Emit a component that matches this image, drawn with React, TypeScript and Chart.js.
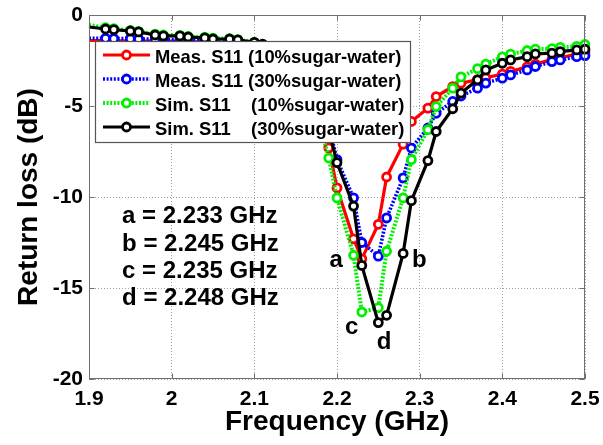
import React, { useEffect, useRef } from "react";
import { Chart, registerables } from "chart.js";

Chart.register(...registerables);

// Frequency grid (GHz) shared by all series (marker positions)
const FREQ = [
  1.9, 1.92, 1.93, 1.95, 1.96, 1.98, 1.99, 2.01, 2.02, 2.04, 2.05, 2.07, 2.08,
  2.1, 2.11, 2.13, 2.14, 2.16, 2.17, 2.19, 2.2, 2.22, 2.23, 2.25, 2.26, 2.28,
  2.29, 2.31, 2.32, 2.34, 2.35, 2.37, 2.38, 2.4, 2.41, 2.43, 2.44, 2.46, 2.47,
  2.49, 2.5,
];

// Return loss (dB)
const MEAS_10 = [
  -1.4, -1.4, -1.42, -1.42, -1.43, -1.43, -1.45, -1.45, -1.47, -1.48, -1.5, -1.52, -1.55,
  -1.6, -1.7, -2.0, -2.3, -3.2, -4.2, -7.3, -9.5, -12.3, -13.4, -11.5, -8.9, -7.1,
  -5.85, -5.12, -4.48, -3.93, -3.75, -3.55, -3.45, -3.25, -3.1, -2.85, -2.7, -2.45, -2.35,
  -2.15, -2.05,
];
const MEAS_30 = [
  -1.28, -1.28, -1.3, -1.3, -1.32, -1.33, -1.35, -1.36, -1.38, -1.4, -1.42, -1.45, -1.48,
  -1.55, -1.65, -1.95, -2.25, -3.1, -4.0, -6.1, -7.95, -10.05, -12.5, -13.25, -11.15, -8.95,
  -7.31, -6.21, -5.4, -4.75, -4.45, -4.02, -3.74, -3.47, -3.29, -3.02, -2.83, -2.56, -2.47,
  -2.29, -2.23,
];
const SIM_10 = [
  -0.55, -0.7, -0.75, -0.85, -0.9, -1.05, -1.1, -1.12, -1.18, -1.22, -1.27, -1.3, -1.35,
  -1.5, -1.65, -2.0, -2.4, -3.3, -4.4, -7.86, -10.05, -13.2, -16.32, -16.08, -12.98, -10.05,
  -7.95, -6.3, -5.03, -4.02, -3.4, -2.95, -2.7, -2.3, -2.15, -1.95, -1.88, -1.85, -1.78,
  -1.72, -1.62,
];
const SIM_30 = [
  -0.66, -0.77, -0.8, -0.88, -0.93, -1.1, -1.15, -1.15, -1.21, -1.26, -1.32, -1.32, -1.37,
  -1.5, -1.6, -1.9, -2.2, -2.9, -3.6, -6.3, -8.11, -10.5, -13.76, -16.9, -16.5, -13.1,
  -10.2, -8.0, -6.4, -5.15, -4.29, -3.56, -3.02, -2.65, -2.47, -2.29, -2.14, -2.1, -2.01,
  -1.92, -1.88,
];

const X_TICKS = [1.9, 2.0, 2.1, 2.2, 2.3, 2.4, 2.5];
const Y_TICKS = [-20, -15, -10, -5, 0];

const SERIES_LABELS = [
  "Meas. S11 (10%sugar-water)",
  "Meas. S11 (30%sugar-water)",
  "Sim. S11    (10%sugar-water)",
  "Sim. S11    (30%sugar-water)",
];

const NOTES = ["a = 2.233 GHz", "b = 2.245 GHz", "c = 2.235 GHz", "d = 2.248 GHz"];
const NOTE_X = 1.94;
const NOTE_Y = [-11.44, -12.96, -14.45, -15.92];

const MARK_TEXT = ["a", "b", "c", "d"];
const MARK_X = [2.191, 2.2906, 2.2096, 2.2482];
const MARK_Y = [-13.87, -13.87, -17.54, -18.37];

const FAMILY = '"Liberation Sans", Arial, Helvetica, sans-serif';

const STYLES = [
  { color: "#ff0000", dash: [] as number[], width: 3.2 },
  { color: "#0000ff", dash: [2, 1.6], width: 3.6 },
  { color: "#00f000", dash: [2, 1.6], width: 4 },
  { color: "#000000", dash: [] as number[], width: 3.2 },
];

const overlayPlugin = {
  id: "overlay",
  afterDatasetsDraw(chart: any) {
    const { ctx, chartArea: ca, scales } = chart;
    const xs = scales.x;
    const ys = scales.y;
    ctx.save();

    // plot frame
    ctx.strokeStyle = "#707070";
    ctx.lineWidth = 1;
    ctx.setLineDash([]);
    const L = Math.round(ca.left) + 0.5;
    const T = Math.round(ca.top) + 0.5;
    const R = Math.round(ca.right) - 0.5;
    const B = Math.round(ca.bottom) - 0.5;
    ctx.strokeRect(L, T, R - L, B - T);
    // inner tick marks
    ctx.beginPath();
    X_TICKS.forEach((v) => {
      const px = Math.round(xs.getPixelForValue(v)) + 0.5;
      ctx.moveTo(px, B);
      ctx.lineTo(px, B - 5);
      ctx.moveTo(px, T);
      ctx.lineTo(px, T + 5);
    });
    Y_TICKS.forEach((v) => {
      const py = Math.round(ys.getPixelForValue(v)) + 0.5;
      ctx.moveTo(L, py);
      ctx.lineTo(L + 5, py);
      ctx.moveTo(R, py);
      ctx.lineTo(R - 5, py);
    });
    ctx.stroke();

    // annotations
    ctx.fillStyle = "#000";
    ctx.font = `bold 24px ${FAMILY}`;
    ctx.textAlign = "left";
    ctx.textBaseline = "alphabetic";
    NOTES.forEach((t, i) => {
      ctx.fillText(t, xs.getPixelForValue(NOTE_X), ys.getPixelForValue(NOTE_Y[i]));
    });
    MARK_TEXT.forEach((t, i) => {
      ctx.fillText(t, xs.getPixelForValue(MARK_X[i]), ys.getPixelForValue(MARK_Y[i]));
    });

    // legend box
    const bx = ca.left + 6;
    const by = ca.top + 26;
    const bw = 315;
    const bh = 101;
    ctx.fillStyle = "#ffffff";
    ctx.fillRect(bx, by, bw, bh);
    ctx.strokeStyle = "#555";
    ctx.lineWidth = 1.2;
    ctx.strokeRect(Math.round(bx) + 0.5, Math.round(by) + 0.5, bw, bh);

    ctx.font = `bold 18.4px ${FAMILY}`;
    SERIES_LABELS.forEach((lab, i) => {
      const st = STYLES[i];
      const base = by + 21.5 + 24 * i;
      const ly = base - 7.5;
      const x0 = bx + 8;
      const x1 = bx + 55;
      ctx.strokeStyle = st.color;
      ctx.lineWidth = st.width;
      ctx.setLineDash(st.dash);
      ctx.beginPath();
      ctx.moveTo(x0, ly);
      ctx.lineTo(x1, ly);
      ctx.stroke();
      ctx.setLineDash([]);
      ctx.beginPath();
      ctx.arc((x0 + x1) / 2, ly, 4, 0, Math.PI * 2);
      ctx.fillStyle = "#fff";
      ctx.fill();
      ctx.lineWidth = 2.8;
      ctx.stroke();
      ctx.fillStyle = "#000";
      ctx.fillText(lab, bx + 60, base);
    });

    ctx.restore();
  },
};

export default function App() {
  const ref = useRef<HTMLCanvasElement | null>(null);

  useEffect(() => {
    if (!ref.current) return;
    const seriesData = [MEAS_10, MEAS_30, SIM_10, SIM_30];
    const orders = [4, 3, 2, 1];
    const datasets = seriesData.map((arr, i) => ({
      label: SERIES_LABELS[i],
      data: FREQ.map((f, k) => ({ x: f, y: arr[k] })),
      borderColor: STYLES[i].color,
      backgroundColor: "#ffffff",
      borderWidth: STYLES[i].width,
      borderDash: STYLES[i].dash,
      pointRadius: (c: any) => (c.dataIndex === 0 ? 0 : 4),
      pointBorderWidth: 2.8,
      pointBackgroundColor: "#ffffff",
      pointBorderColor: STYLES[i].color,
      tension: 0,
      clip: false as any,
      order: orders[i],
    }));

    const tickFont = { family: FAMILY, size: 21, weight: "bold" as const };
    const titleFont = { family: FAMILY, size: 28, weight: "bold" as const, lineHeight: 1 };

    const chart = new Chart(ref.current, {
      type: "line",
      data: { datasets },
      plugins: [overlayPlugin],
      options: {
        animation: false,
        responsive: false,
        maintainAspectRatio: false,
        layout: { padding: { top: 15, right: 18, left: 0, bottom: 0 } },
        plugins: { legend: { display: false }, tooltip: { enabled: false } },
        scales: {
          x: {
            type: "linear",
            min: 1.9,
            max: 2.5,
            afterBuildTicks: (s: any) => {
              s.ticks = X_TICKS.map((v) => ({ value: v }));
            },
            afterFit: (s: any) => {
              s.height = 66;
              s.paddingLeft = 0;
              s.paddingRight = 0;
            },
            ticks: {
              font: tickFont,
              color: "#000",
              padding: 8,
              maxRotation: 0,
              autoSkip: false,
              callback: (v: any) => String(Number(Number(v).toFixed(1))),
            },
            grid: { color: "#a0a0a0", lineWidth: 1, drawTicks: false },
            border: { display: false, dash: [1, 2] },
            title: {
              display: true,
              text: "Frequency (GHz)",
              font: titleFont,
              color: "#000",
              padding: { top: 0, bottom: 9 },
            },
          },
          y: {
            type: "linear",
            min: -20,
            max: 0,
            afterBuildTicks: (s: any) => {
              s.ticks = Y_TICKS.map((v) => ({ value: v }));
            },
            afterFit: (s: any) => {
              s.width = 89;
              s.paddingTop = 0;
              s.paddingBottom = 0;
            },
            ticks: {
              font: tickFont,
              color: "#000",
              padding: 6,
              autoSkip: false,
              callback: (v: any) => String(v),
            },
            grid: { color: "#a0a0a0", lineWidth: 1, drawTicks: false },
            border: { display: false, dash: [1, 2] },
            title: {
              display: true,
              text: "Return loss (dB)",
              font: titleFont,
              color: "#000",
              padding: { top: 15, bottom: 0 },
            },
          },
        },
      },
    } as any);

    return () => chart.destroy();
  }, []);

  return (
    <div style={{ position: "absolute", left: 0, top: 0, width: 603, height: 445 }}>
      <canvas ref={ref} width={603} height={445} style={{ display: "block" }} />
    </div>
  );
}
